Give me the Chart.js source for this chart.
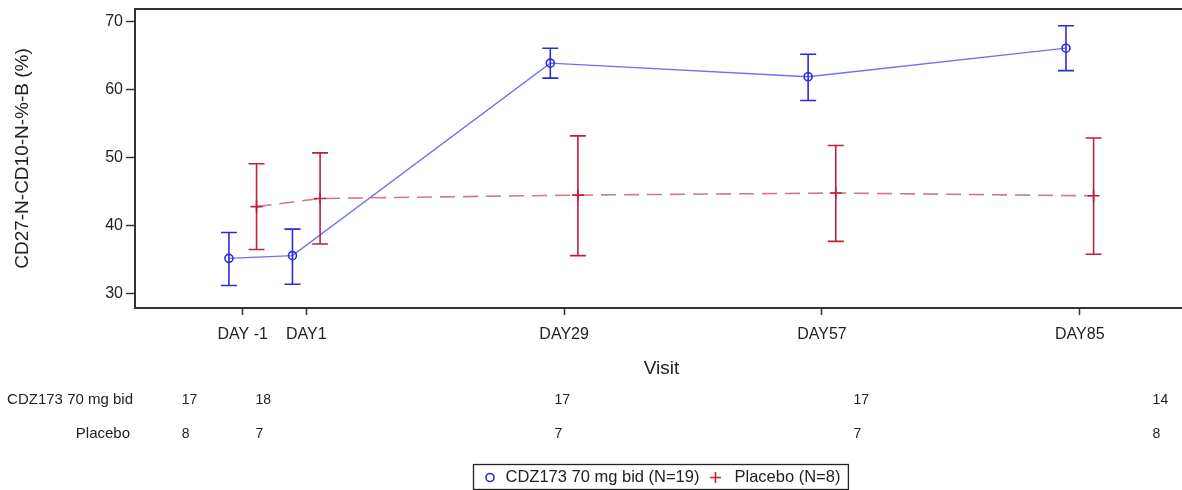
<!DOCTYPE html>
<html>
<head>
<meta charset="utf-8">
<script src="https://cdn.jsdelivr.net/npm/chart.js@4.4.1/dist/chart.umd.min.js"></script>
<style>
  html, body { margin: 0; padding: 0; background: #fff; overflow: hidden; }
  #wrap { width: 1182px; height: 490px; position: relative; }
</style>
</head>
<body>
<div id="wrap"><canvas id="c"></canvas></div>
<script>
// Visits (study day used as x position) and their axis labels
const visitLabels = ['DAY -1', 'DAY1', 'DAY29', 'DAY57', 'DAY85'];
const visitDay = [-5.9, 1, 29, 57, 85];

// CDZ173 70 mg bid: mean with lower / upper error limits
const cdzMean = [35.2, 35.6, 63.9, 61.9, 66.1];
const cdzLow  = [31.2, 31.4, 61.7, 58.4, 62.8];
const cdzHigh = [39.0, 39.5, 66.1, 65.2, 69.4];

// Placebo: mean with lower / upper error limits
const pboMean = [42.8, 44.0, 44.5, 44.8, 44.4];
const pboLow  = [36.5, 37.3, 35.6, 37.7, 35.8];
const pboHigh = [49.1, 50.7, 53.2, 51.8, 52.9];

// Number of subjects per visit
const cdzN = [17, 18, 17, 17, 14];
const pboN = [8, 7, 7, 7, 8];

// Y axis ticks
const yTicks = [30, 40, 50, 60, 70];

const FONT = '"Liberation Sans", Arial, Helvetica, sans-serif';
const TEXT = '#222';
const AXIS = '#333';
const BLUE = '#2b2bdc';
const BLUE_LINE = '#7070f0';
const RED = '#c21f3a';
const RED_LINE = '#cf7a85';
const DODGE = 1.5; // horizontal dodge of the two groups, in days

const cdzPoints = visitDay.map((d, i) => ({ x: d - DODGE, y: cdzMean[i] }));
const pboPoints = visitDay.map((d, i) => ({ x: d + DODGE, y: pboMean[i] }));

// Vertical error bars with caps
const errorBars = {
  id: 'errorBars',
  afterDatasetsDraw(chart) {
    const { ctx, scales: { x, y } } = chart;
    chart.data.datasets.forEach(ds => {
      if (!ds.errLow) return;
      ctx.save();
      ctx.strokeStyle = ds.errColor;
      ctx.lineWidth = 1.6;
      ds.data.forEach((p, i) => {
        const px = x.getPixelForValue(p.x);
        const yl = y.getPixelForValue(ds.errLow[i]);
        const yh = y.getPixelForValue(ds.errHigh[i]);
        ctx.beginPath();
        ctx.moveTo(px, yl); ctx.lineTo(px, yh);
        ctx.moveTo(px - 8, yl); ctx.lineTo(px + 8, yl);
        ctx.moveTo(px - 8, yh); ctx.lineTo(px + 8, yh);
        ctx.stroke();
      });
      ctx.restore();
    });
  }
};

// Top frame line, x axis title, subject-count table and legend box
const decorations = {
  id: 'decorations',
  afterDraw(chart) {
    const { ctx, chartArea: ca } = chart;
    ctx.save();
    // top frame
    ctx.strokeStyle = AXIS;
    ctx.lineWidth = 2;
    ctx.beginPath();
    ctx.moveTo(ca.left, ca.top);
    ctx.lineTo(ca.right, ca.top);
    ctx.stroke();

    // x axis title
    ctx.fillStyle = TEXT;
    ctx.font = '19px ' + FONT;
    ctx.textAlign = 'center';
    ctx.textBaseline = 'middle';
    ctx.fillText('Visit', (ca.left + ca.right) / 2 + 3, 369);

    // subject count table
    const tableX = d => 255.5 + (d - 1) * 10.68;
    ctx.font = '15px ' + FONT;
    ctx.textAlign = 'right';
    ctx.fillText('CDZ173 70 mg bid', 133, 400);
    ctx.fillText('Placebo', 130, 434);
    ctx.textAlign = 'left';
    ctx.font = '14px ' + FONT;
    visitDay.forEach((d, i) => {
      ctx.fillText(String(cdzN[i]), tableX(d), 400);
      ctx.fillText(String(pboN[i]), tableX(d), 434);
    });

    // legend
    const items = chart.data.datasets.map(ds => ds.label);
    ctx.font = '16.5px ' + FONT;
    const w0 = ctx.measureText(items[0]).width;
    const w1 = ctx.measureText(items[1]).width;
    const total = 16.5 + 15.5 + w0 + 16 + 19 + w1 + 8;
    const cx = (ca.left + ca.right) / 2 + 2;
    const bx = Math.round(cx - total / 2) + 0.5;
    const by = 464.5, bh = 25;
    ctx.strokeStyle = '#222';
    ctx.lineWidth = 1.3;
    ctx.strokeRect(bx, by, total, bh);
    const my = by + bh / 2 + 0.5;
    let px = bx + 16.5;
    ctx.strokeStyle = BLUE;
    ctx.lineWidth = 1.6;
    ctx.beginPath();
    ctx.arc(px, my, 4, 0, Math.PI * 2);
    ctx.stroke();
    px += 15.5;
    ctx.fillStyle = TEXT;
    ctx.textBaseline = 'middle';
    ctx.fillText(items[0], px, my);
    px += w0 + 16;
    ctx.strokeStyle = RED;
    ctx.beginPath();
    ctx.moveTo(px - 5.5, my); ctx.lineTo(px + 5.5, my);
    ctx.moveTo(px, my - 5.5); ctx.lineTo(px, my + 5.5);
    ctx.stroke();
    px += 19;
    ctx.fillText(items[1], px, my);
    ctx.restore();
  }
};

new Chart(document.getElementById('c'), {
  type: 'line',
  data: {
    datasets: [
      {
        label: 'CDZ173 70 mg bid (N=19)',
        data: cdzPoints,
        borderColor: BLUE_LINE,
        borderWidth: 1.4,
        pointStyle: 'circle',
        pointRadius: 4,
        pointBorderWidth: 1.6,
        pointBorderColor: BLUE,
        pointBackgroundColor: 'rgba(0,0,0,0)',
        errLow: cdzLow,
        errHigh: cdzHigh,
        errColor: BLUE,
        order: 1
      },
      {
        label: 'Placebo (N=8)',
        data: pboPoints,
        borderColor: RED_LINE,
        borderWidth: 1.6,
        borderDash: [15, 8],
        pointStyle: 'cross',
        pointRadius: 6,
        pointBorderWidth: 1.6,
        pointBorderColor: RED,
        errLow: pboLow,
        errHigh: pboHigh,
        errColor: RED,
        order: 2
      }
    ]
  },
  options: {
    responsive: true,
    maintainAspectRatio: false,
    animation: false,
    devicePixelRatio: 1,
    layout: { autoPadding: false, padding: { top: 9, right: 0, left: 0, bottom: 0 } },
    plugins: {
      legend: { display: false },
      tooltip: { enabled: false }
    },
    scales: {
      x: {
        type: 'linear',
        min: -17.6,
        max: 96.1,
        afterBuildTicks: s => { s.ticks = visitDay.map(v => ({ value: v })); },
        afterFit: s => { s.height = 182; s.paddingLeft = 0; s.paddingRight = 0; },
        ticks: {
          autoSkip: false,
          maxRotation: 0,
          color: TEXT,
          font: { family: FONT, size: 16 },
          padding: 10,
          callback: (v, i) => visitLabels[i]
        },
        grid: { drawOnChartArea: false, tickLength: 7, tickWidth: 1.5, color: AXIS },
        border: { color: AXIS, width: 2 }
      },
      y: {
        min: 27.9,
        max: 71.86,
        afterBuildTicks: s => { s.ticks = yTicks.map(v => ({ value: v })); },
        afterFit: s => { s.width = 135; s.paddingTop = 0; s.paddingBottom = 0; },
        ticks: {
          color: TEXT,
          font: { family: FONT, size: 16 },
          padding: 3
        },
        grid: { drawOnChartArea: false, tickLength: 9, tickWidth: 1.5, color: AXIS },
        border: { color: AXIS, width: 2 },
        title: {
          display: true,
          text: 'CD27-N-CD10-N-%-B (%)',
          color: TEXT,
          font: { family: FONT, size: 19 },
          padding: { top: 11, bottom: 0 }
        }
      }
    }
  },
  plugins: [errorBars, decorations]
});
</script>
</body>
</html>
